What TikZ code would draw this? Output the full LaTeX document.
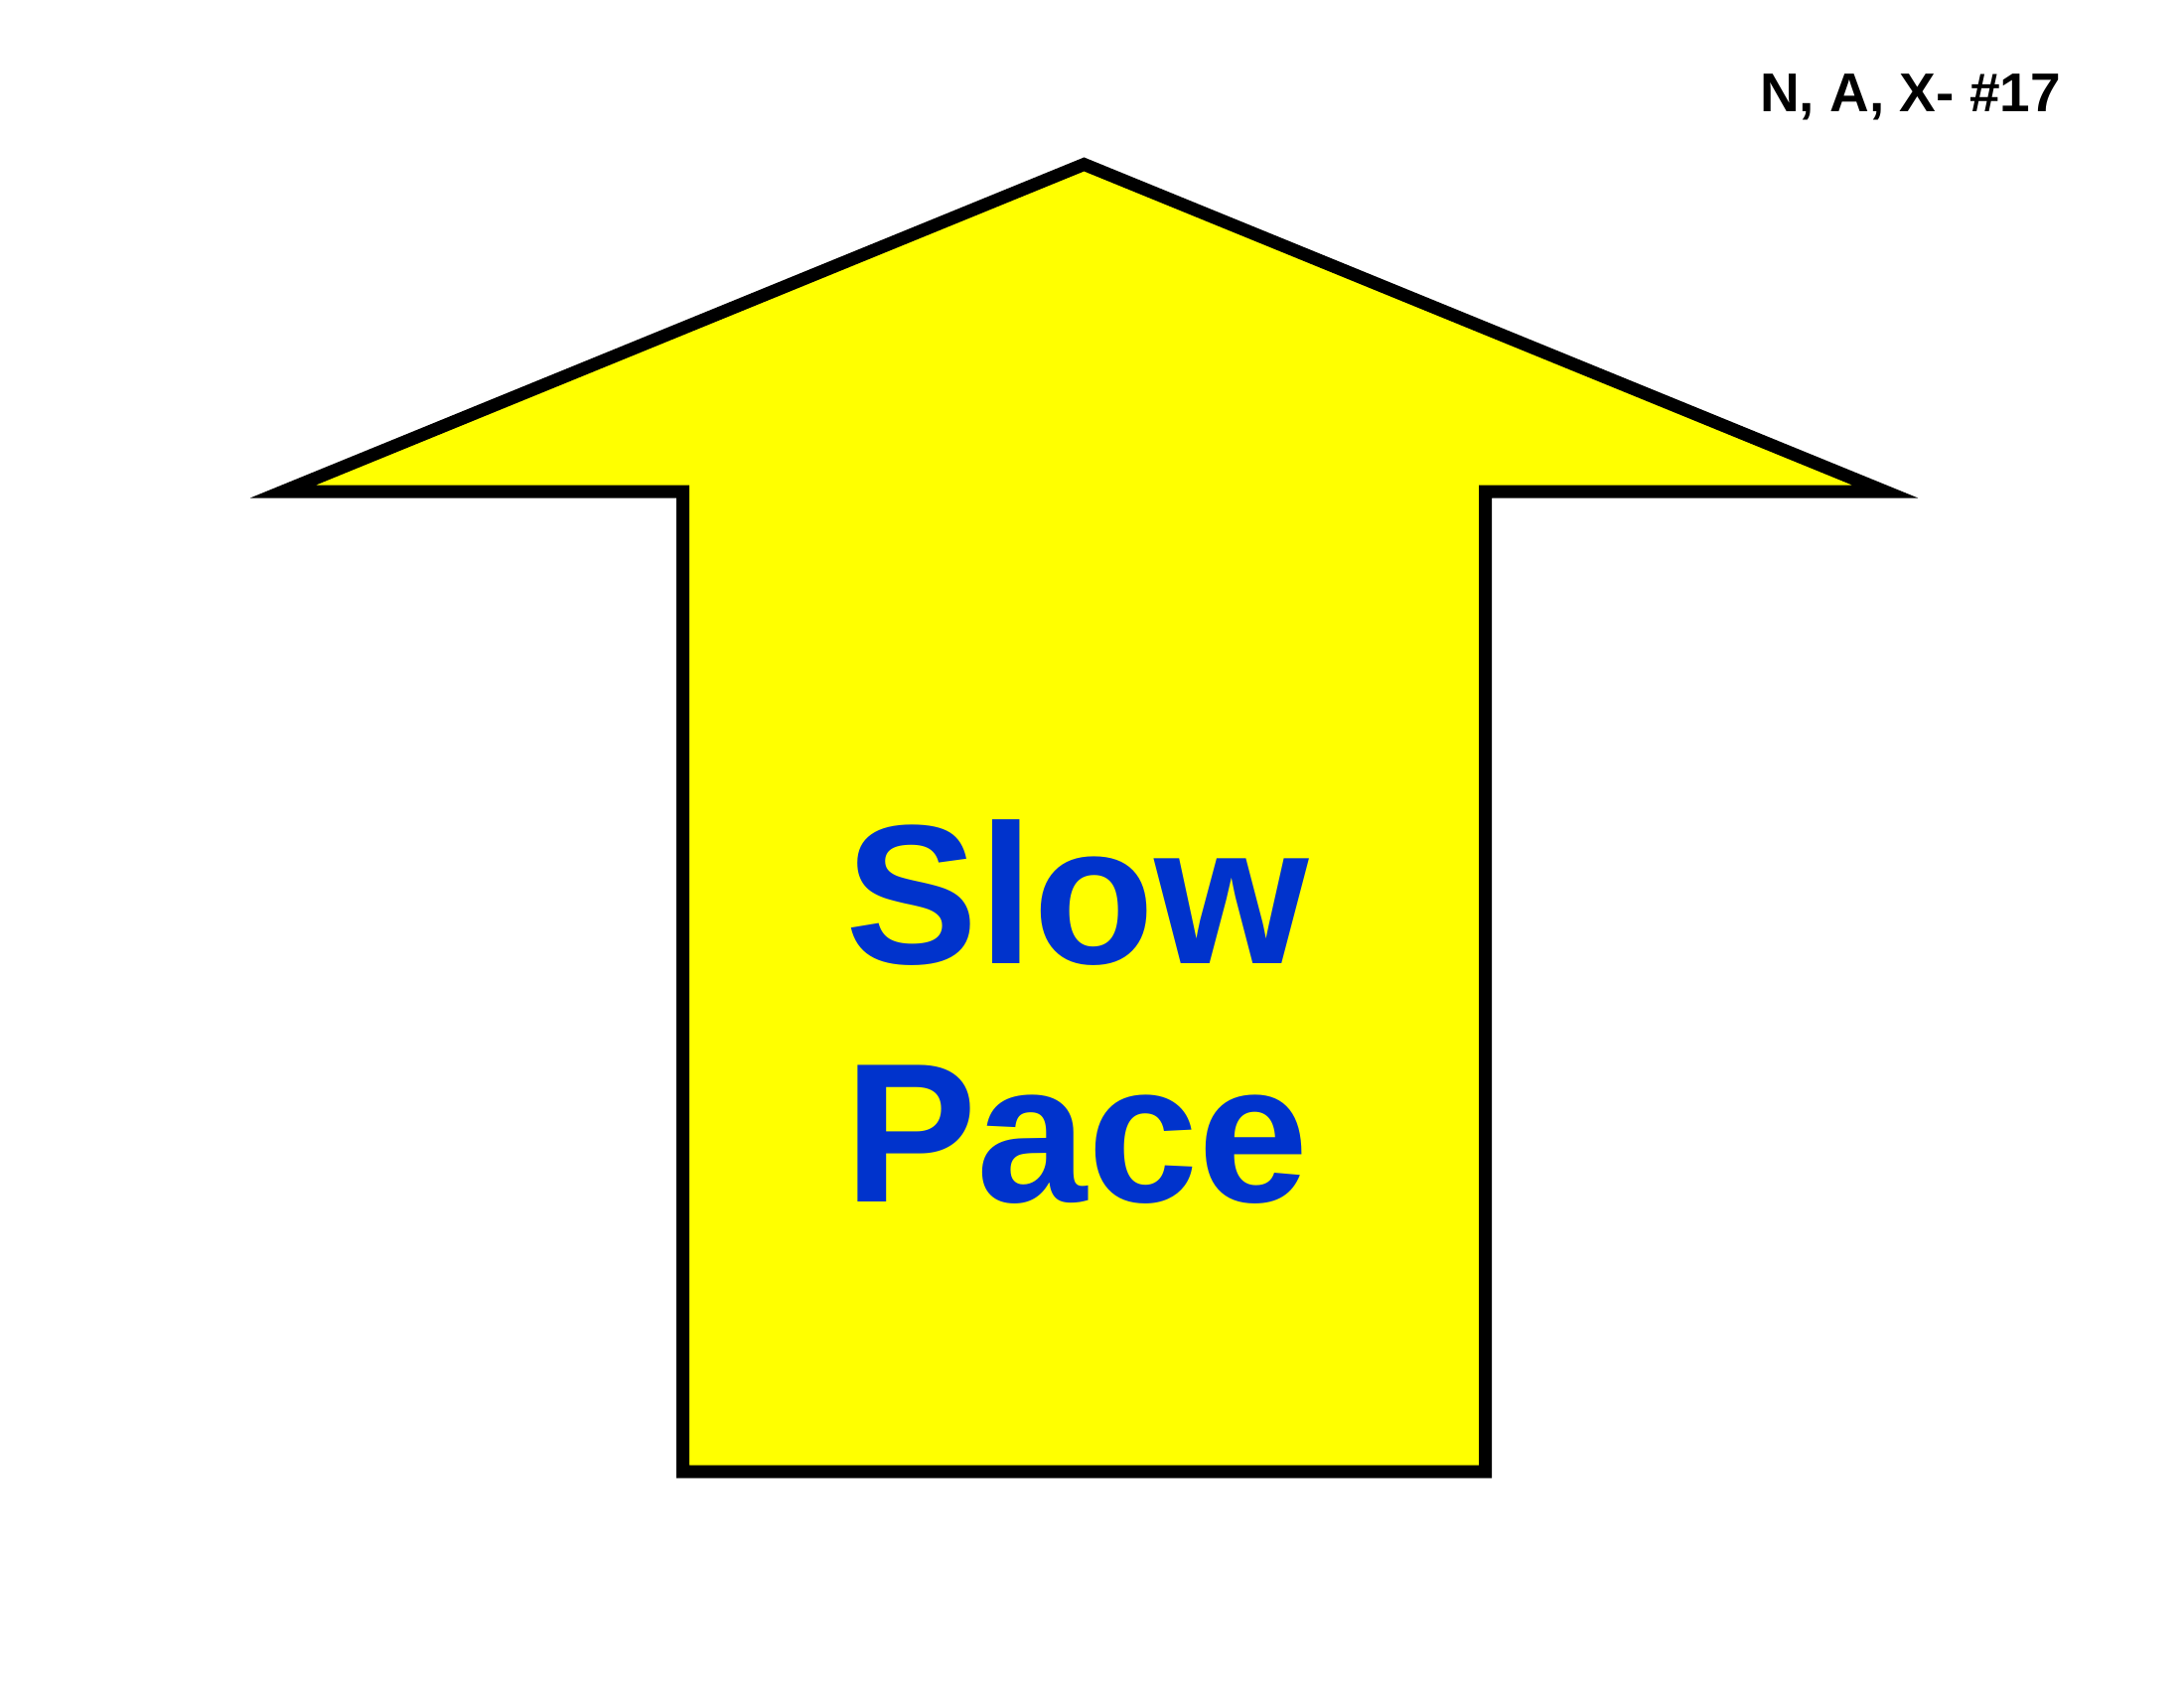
\documentclass[tikz,border=0pt]{standalone}
\usepackage{fontspec}
\setmainfont{Liberation Sans}
\definecolor{arrowyellow}{RGB}{255,255,0}
\definecolor{textblue}{RGB}{0,51,204}
\begin{document}
\begin{tikzpicture}[x=1pt,y=-1pt,
  bigtext/.style={inner sep=0pt,anchor=base,text=textblue,font=\fontsize{200}{240}\selectfont\bfseries},
  tagtext/.style={inner sep=0pt,anchor=base west,text=black,font=\fontsize{55}{66}\selectfont\bfseries},
  arrowshape/.style={draw=black,fill=arrowyellow,line width=13pt,line join=miter,miter limit=10}]
\useasboundingbox (0,0) rectangle (2199,1699);
\fill[white] (0,0) rectangle (2199,1699);
\draw[arrowshape] (1091.5,165.5) -- (1898,495) -- (1495.5,495) -- (1495.5,1482)
  -- (687.5,1482) -- (687.5,495) -- (285,495) -- cycle;
\node[bigtext] (slow) at (1085,970) {Slow};
\node[bigtext] (pace) at (1084,1210) {Pace};
\node[tagtext] (tag) at (1772,112.7) {N, A, X- \#17};
\end{tikzpicture}
\end{document}
